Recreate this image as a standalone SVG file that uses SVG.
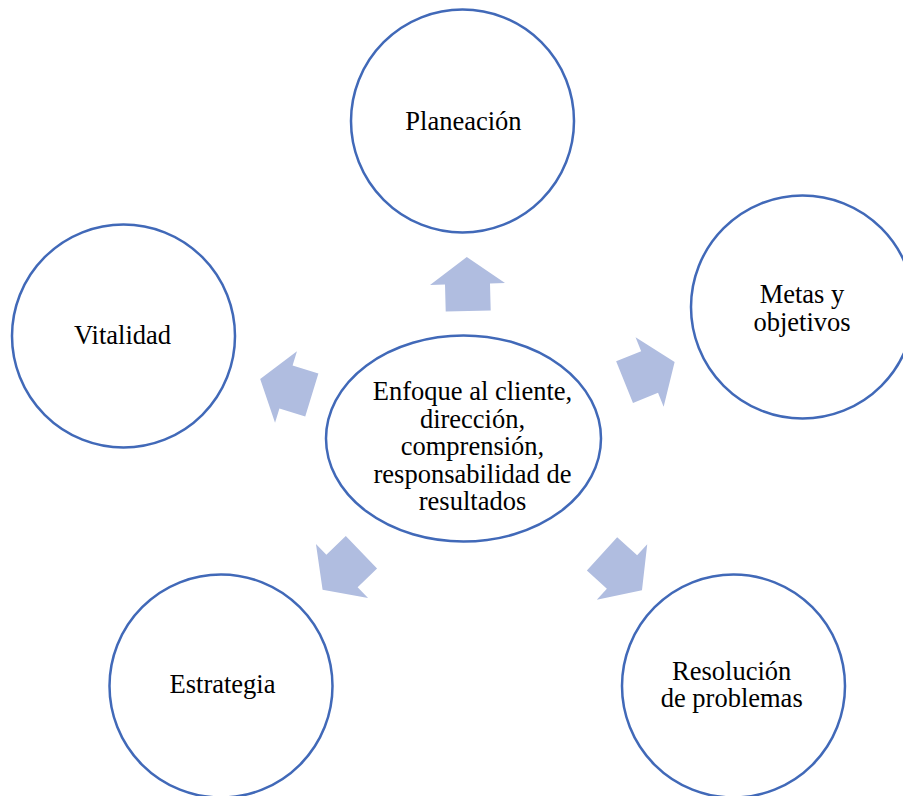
<svg xmlns="http://www.w3.org/2000/svg" width="903" height="796" viewBox="0 0 903 796">
<defs>
<style>
.node{fill:#ffffff;stroke:#4169B8;stroke-width:2.5}
.lbl{font-family:"Liberation Serif","Times New Roman",serif;font-size:26.5px;fill:#000000;text-anchor:middle}
.arr{fill:#B0BDE0;stroke:none}
</style>
<polygon id="arrowShape" class="arr" points="27,0 0,-37.5 0,-22.5 -27,-22.5 -27,22.5 0,22.5 0,37.5"/>
</defs>
<rect width="903" height="796" fill="#ffffff"/>
<g id="connectors">
<use href="#arrowShape" transform="translate(467.5,284) rotate(-91.5)"/>
<use href="#arrowShape" transform="translate(649.6,372) rotate(-22)"/>
<use href="#arrowShape" transform="translate(622,572) rotate(42.3)"/>
<use href="#arrowShape" transform="translate(342,571) rotate(136)"/>
<use href="#arrowShape" transform="translate(286,387) rotate(197)"/>
</g>
<g id="center">
<ellipse class="node" cx="463.5" cy="438.5" rx="137.5" ry="103"/>
<text class="lbl" x="472.5" y="400">Enfoque al cliente,</text>
<text class="lbl" x="472.5" y="427.5">dirección,</text>
<text class="lbl" x="472.5" y="455">comprensión,</text>
<text class="lbl" x="472.5" y="482.5">responsabilidad de</text>
<text class="lbl" x="472.5" y="510">resultados</text>
</g>
<g id="planeacion">
<circle class="node" cx="462.5" cy="121" r="111.5"/>
<text class="lbl" x="463.5" y="130">Planeación</text>
</g>
<g id="metas">
<circle class="node" cx="802.5" cy="307" r="111.5"/>
<text class="lbl" x="802" y="303">Metas y</text>
<text class="lbl" x="802" y="330.5">objetivos</text>
</g>
<g id="vitalidad">
<circle class="node" cx="123.5" cy="336" r="111.5"/>
<text class="lbl" x="122.5" y="344.3">Vitalidad</text>
</g>
<g id="estrategia">
<circle class="node" cx="221" cy="686" r="111.5"/>
<text class="lbl" x="222.5" y="693.3">Estrategia</text>
</g>
<g id="resolucion">
<circle class="node" cx="733.5" cy="686" r="111.5"/>
<text class="lbl" x="731.7" y="679.5">Resolución</text>
<text class="lbl" x="731.7" y="707">de problemas</text>
</g>
</svg>
